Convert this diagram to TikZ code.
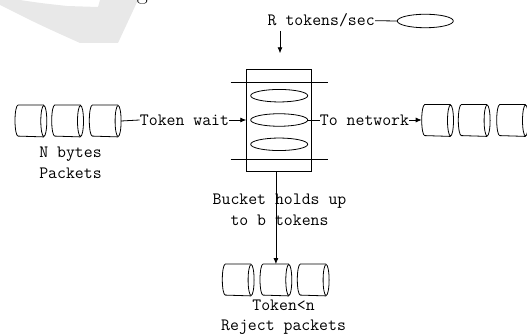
\documentclass[tikz,border=0pt]{standalone}
\usetikzlibrary{shapes.geometric,arrows.meta,calc}
\newcommand\pktcyl[2]{%
  \node[pkt] (#1) at (#2) {};
  \draw ($(#1.north east)+(-3pt,0pt)$) -- ($(#1.north west)+(3pt,0pt)$)
    arc[start angle=90, end angle=270, x radius=3pt, y radius=15.5pt]
    -- ($(#1.south east)+(-3pt,0pt)$);
  \draw ($(#1.east)+(-3pt,0pt)$) ellipse[x radius=3pt, y radius=15.5pt];
}
\begin{document}
\begin{tikzpicture}[x=1pt,y=-1pt,
  line width=0.8pt,
  lbl/.style={font=\ttfamily\fontsize{17.3}{20.5}\selectfont, inner sep=0pt, align=center},
  pkt/.style={rectangle, draw=none, minimum width=31pt, minimum height=31pt, inner sep=0pt, anchor=west},
  tok/.style={ellipse, draw, minimum width=57pt, minimum height=12.5pt, inner sep=0pt},
  arr/.style={-{Latex[length=6pt,width=5pt]}}]
\useasboundingbox (0,0) rectangle (527,336);
\clip (0,0) rectangle (527,336);
% faint watermark
\fill[gray!18] (0,0) -- (20,0) .. controls (40,3) .. (67,6) -- (98,7) -- (100,0) -- (138,0)
  -- (118,43) -- (80,43) .. controls (40,25) .. (0,5) -- cycle;
\node[anchor=base, inner sep=0pt, font=\fontsize{24}{24}\selectfont] (gfrag) at (142.5,-0.5) {g};
% top token source
\node[lbl] (rt) at (321.2,20.7) {R tokens/sec};
\node[tok, minimum width=56pt, minimum height=13.5pt] (te) at (425.3,21) {};
\draw (rt.east) -- (te.west);
\coordinate (ra) at (280,31);
\coordinate (rb) at (280,53.3);
\draw[arr] (ra) -- (rb);
% bucket
\node[draw, minimum width=64.3pt, minimum height=102pt, inner sep=0pt] (bucket) at (278.85,120) {};
\coordinate (h1a) at (230.5,82);  \coordinate (h1b) at (327.7,82);
\coordinate (h2a) at (230.5,159); \coordinate (h2b) at (327.7,159);
\draw (h1a) -- (h1b);
\draw (h2a) -- (h2b);
\node[tok] (e1) at (279.2,95.7) {};
\node[tok] (e2) at (279.2,120) {};
\node[tok] (e3) at (279.2,144.3) {};
% left packets
\pktcyl{lc1}{15,121}
\pktcyl{lc2}{51.7,121}
\pktcyl{lc3}{89.3,121}
\node[lbl] (nb) at (70.5,163) {N bytes\\Packets};
\node[lbl] (tw) at (184.5,120) {Token wait};
\draw (lc3.east) -- (tw.west);
\draw[arr] (tw.east) -- (tw.east -| bucket.west);
% right packets
\pktcyl{rc1}{421.7,120.5}
\pktcyl{rc2}{458.3,120.5}
\pktcyl{rc3}{496.7,120.5}
\node[lbl] (tn) at (364.5,120) {To network};
\draw (e2.east) -- (tn.west);
\draw[arr] (tn.east) -- (tn.east -| rc1.west);
% bottom packets
\pktcyl{bc1}{222.3,280}
\pktcyl{bc2}{260,280}
\pktcyl{bc3}{297.3,280}
\node[lbl] (bh) at (279.5,209.8) {Bucket holds up\\to b tokens};
\node[lbl] (rj) at (283.6,317.3) {Token<n\\Reject packets};
\draw[arr] (bucket.south -| bc2.north) -- (bc2.north);
\end{tikzpicture}
\end{document}
